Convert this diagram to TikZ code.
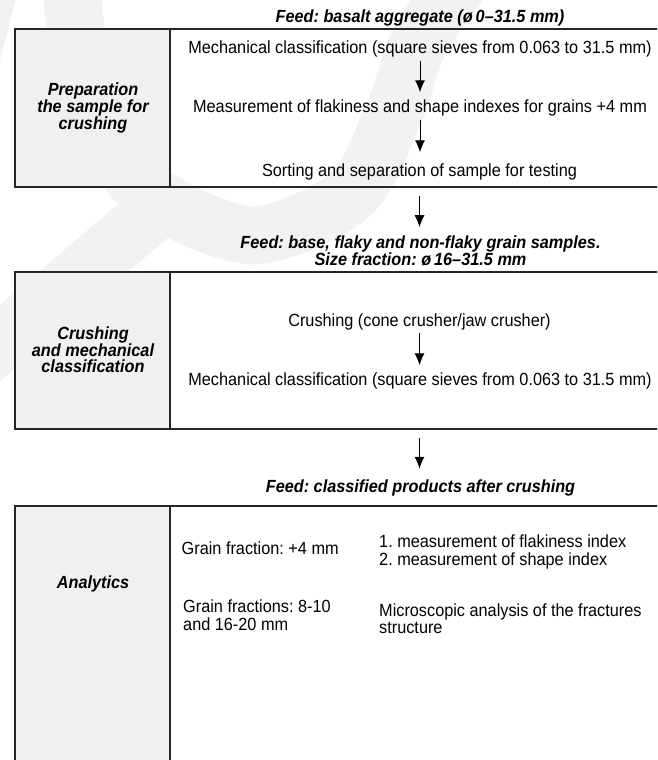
\documentclass[tikz,border=0pt]{standalone}
\usepackage{fontspec}
\setmainfont{Liberation Sans}[FakeStretch=0.925]
\usetikzlibrary{arrows.meta}
\frenchspacing
\tikzset{
  wmark/.style={draw=black!5,line width=58pt},
  boxline/.style={draw=black!85,line width=1.2pt},
  colfill/.style={fill=black!6},
  txt/.style={font=\fontsize{17.6}{17.5}\selectfont},
  feed/.style={font=\fontsize{17.6}{15.1}\selectfont\bfseries\itshape,align=center},
  stage/.style={font=\fontsize{17.6}{16.7}\selectfont\bfseries\itshape,align=center},
  flow/.style={->,line width=1pt}
}
\begin{document}
\begin{tikzpicture}[>={Latex[length=12pt,width=10pt]},x=1pt,y=-1pt]
\clip (0,0) rectangle (657,760);
% faint background mark
\draw[wmark] plot[smooth] coordinates {(70,-30) (85,80) (140,185) (250,235) (350,195) (395,110) (420,40) (470,-30)};
\draw[wmark] (150,215)--(-20,360);
\draw[wmark] (-12,-10)--(-40,100);
% the three stage boxes
\foreach \t/\b in {29/187,272/429,506/790}{
  \fill[colfill] (15,\t) rectangle (170,\b);
  \draw[boxline] (15,\t) rectangle (690,\b);
  \draw[boxline] (170,\t)--(170,\b);
}
\coordinate (b1) at (419.5,187);
\coordinate (b2) at (419.5,429);
% stage 1
\node[feed] (feed1) at (420,17.6) {Feed: basalt aggregate (ø\,0–31.5 mm)};
\node[stage] (prep) at (93,108) {Preparation\\the sample for\\crushing};
\node[txt] (mc1) at (420,49) {Mechanical classification (square sieves from 0.063 to 31.5 mm)};
\node[txt] (meas) at (420,108) {Measurement of flakiness and shape indexes for grains +4 mm};
\node[txt] (sort) at (419.5,172) {Sorting and separation of sample for testing};
\draw[flow,shorten >=4pt] (mc1) -- (mc1 |- meas.north);
\draw[flow,shorten >=8pt] (meas) -- (meas |- sort.north);
% stage 2
\node[feed] (feed2) at (420.5,251) {Feed: base, flaky and non-flaky grain samples.\\Size fraction: ø\,16–31.5 mm};
\draw[flow,shorten <=9pt,shorten >=5pt] (b1) -- (b1 |- feed2.north);
\node[stage] (crush) at (93,350) {Crushing\\and mechanical\\classification};
\node[txt] (crusher) at (419.5,321.5) {Crushing (cone crusher/jaw crusher)};
\node[txt] (mc2) at (420,381) {Mechanical classification (square sieves from 0.063 to 31.5 mm)};
\draw[flow,shorten >=4pt] (crusher) -- (crusher |- mc2.north);
% stage 3
\node[feed] (feed3) at (420.5,487.5) {Feed: classified products after crushing};
\draw[flow,shorten <=9pt,shorten >=7pt] (b2) -- (b2 |- feed3.north);
\node[stage] (anal) at (93,584) {Analytics};
\node[txt,anchor=west,inner sep=0pt] (gf1) at (181.5,548.6) {Grain fraction: +4 mm};
\node[txt,anchor=west,inner sep=0pt,align=left] (idx) at (379,552) {1. measurement of flakiness index\\2. measurement of shape index};
\node[txt,anchor=west,inner sep=0pt,align=left] (gf2) at (183,615) {Grain fractions: 8-10\\and 16-20 mm};
\node[txt,anchor=west,inner sep=0pt,align=left] (micro) at (379,618.5) {Microscopic analysis of the fractures\\structure};
\end{tikzpicture}
\end{document}
